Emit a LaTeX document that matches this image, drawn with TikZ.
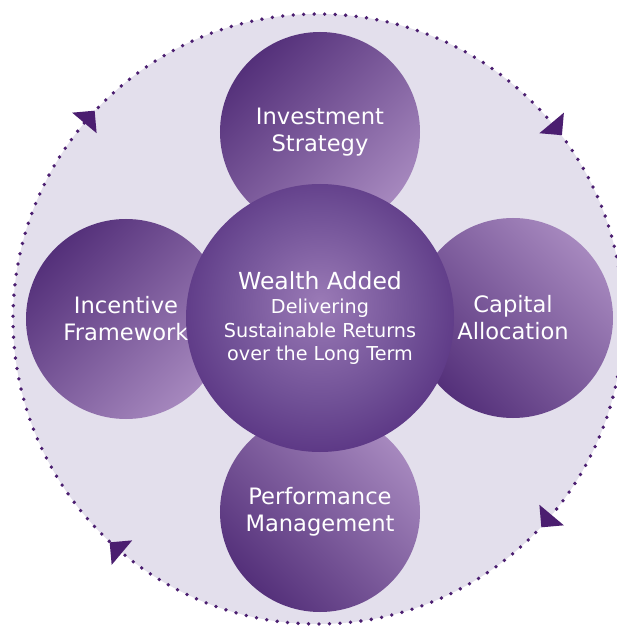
\documentclass[tikz,border=0pt]{standalone}
\usepackage{fontspec}
\setmainfont{DejaVu Sans}
\usepackage{tikz}
\usetikzlibrary{calc}
\usepackage{xcolor}

\definecolor{ringfill}{RGB}{227,223,236}
\definecolor{ringdot}{RGB}{75,30,112}
\definecolor{satdark}{RGB}{84,48,122}
\definecolor{satlight}{RGB}{166,136,190}
\definecolor{hubin}{RGB}{154,122,182}
\definecolor{hubmid}{RGB}{112,80,150}
\definecolor{hubrim}{RGB}{86,48,128}
\definecolor{hubout}{RGB}{66,16,104}
\pgfdeclareradialshading{hubshade}{\pgfpoint{0bp}{3bp}}{color(0bp)=(hubin); color(18bp)=(hubmid);
    color(30bp)=(hubrim); color(40bp)=(hubout); color(60bp)=(hubout)}

\tikzset{
    ring/.style={circle, draw=ringdot, fill=ringfill, line width=3.8pt, line cap=round,
        dash pattern=on 0pt off 10.5pt, minimum size=610pt, inner sep=0pt, outer sep=0pt},
    sat/.style={circle, minimum size=200pt, inner sep=0pt, text=white, align=center,
        font=\fontsize{22.6}{27}\selectfont},
    satnw/.style={sat, top color=satdark, bottom color=satlight, shading angle=45},
    satne/.style={sat, top color=satlight, bottom color=satdark, shading angle=-45},
    hub/.style={circle, minimum size=268pt, inner sep=0pt, shading=hubshade, text=white,
        align=center, font=\fontsize{19.2}{23.5}\selectfont}
}

\begin{document}
\begin{tikzpicture}[x=1pt, y=1pt]
        \useasboundingbox (-318,-307) rectangle (299,319);

        \node[ring] (ring) at (0, 0) {};

        \node[satnw] (invest)  at (2, 187)   {Investment\\Strategy};
        \node[satnw] (incent)  at (-192, 0)  {Incentive\\Framework};
        \node[satne] (capital) at (195, 1)   {Capital\\Allocation};
        \node[satne] (perf)    at (2, -193)  {Performance\\Management};

        \node[hub] (hub) at (2, 1) {{\fontsize{23.5}{25}\selectfont Wealth Added}\\[1pt]
            Delivering\\Sustainable Returns\\over the Long Term};

        % clockwise arrow heads on the ring
        \foreach \a in {140, 40, -40, -130}
            \fill[ringdot] ($(ring.\a)!16pt!(ring.center)$) -- ($(ring.\a)!-16pt!(ring.center)$)
                -- ($(ring.\a)!16pt!90:(ring.center)$) -- cycle;
    \end{tikzpicture}
\end{document}
